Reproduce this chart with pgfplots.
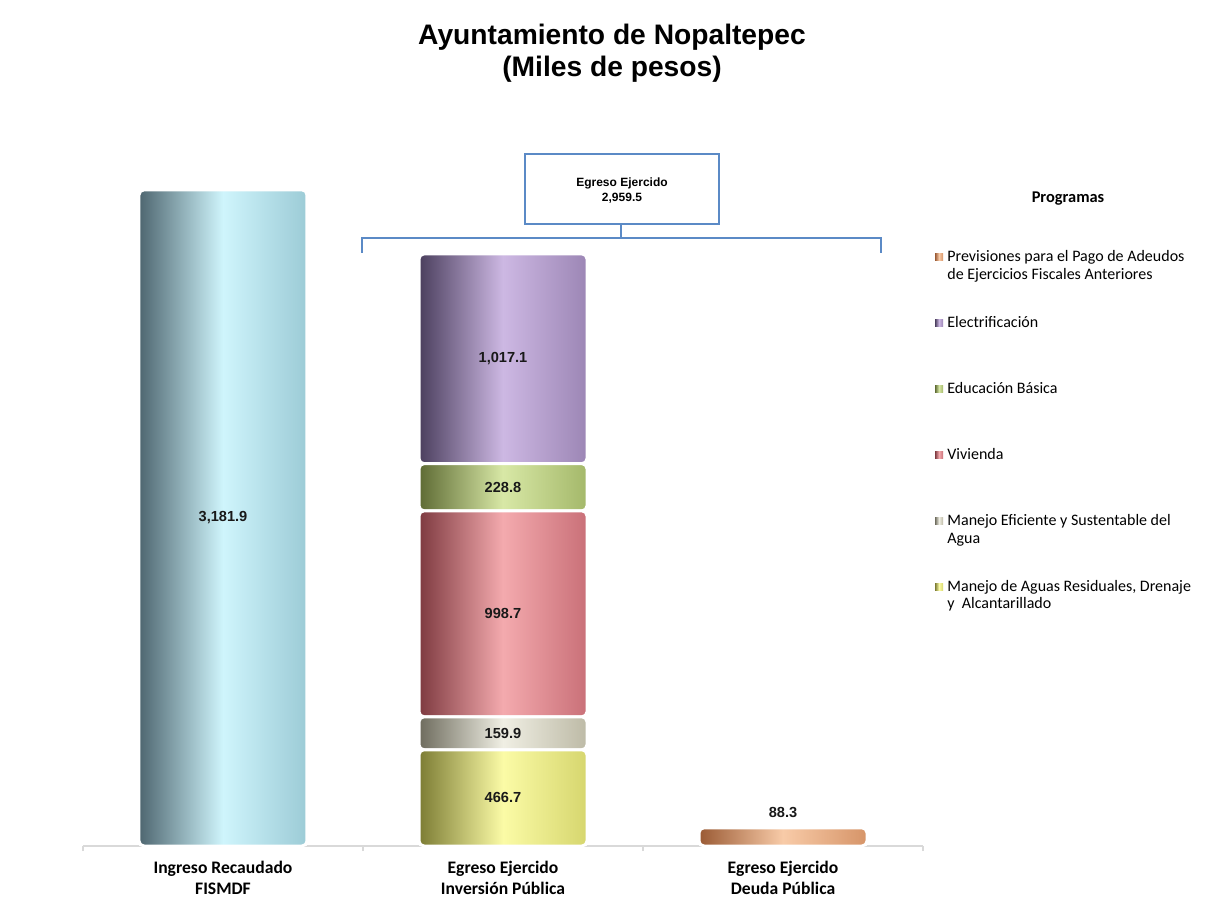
\documentclass[border=0pt]{standalone}
\usepackage{pgfplots}
\pgfplotsset{compat=1.18}
\usepackage{fontspec}
\setmainfont{Liberation Sans}
\newfontfamily\calibri{Carlito}

% cylinder colours: dark left edge, light highlight, mid right edge
\definecolor{ingL}{HTML}{4E6670}\definecolor{ingM}{HTML}{CFF5FC}\definecolor{ingR}{HTML}{9CCBD6}
\definecolor{elecL}{HTML}{4B3F5E}\definecolor{elecM}{HTML}{CDB8E3}\definecolor{elecR}{HTML}{9C86B5}
\definecolor{eduL}{HTML}{5E6B34}\definecolor{eduM}{HTML}{D8E8A6}\definecolor{eduR}{HTML}{A4B86A}
\definecolor{vivL}{HTML}{7E3A40}\definecolor{vivM}{HTML}{F4AAAE}\definecolor{vivR}{HTML}{C97078}
\definecolor{aguaL}{HTML}{6E6C5E}\definecolor{aguaM}{HTML}{F0EFE4}\definecolor{aguaR}{HTML}{BDBAA6}
\definecolor{resL}{HTML}{7C7C34}\definecolor{resM}{HTML}{FBFBA6}\definecolor{resR}{HTML}{D6D66E}
\definecolor{prevL}{HTML}{9A5A34}\definecolor{prevM}{HTML}{F8CBA8}\definecolor{prevR}{HTML}{D69468}
\definecolor{brk}{HTML}{5B8AC6}

\newcommand{\lbl}{\bfseries\fontsize{7.3}{8.6}\selectfont}
\newcommand{\legitem}[5]{%
  \shade[left color=#2, right color=#4, middle color=#3] (935,#1-8) rectangle (943,#1-1);
  \node[anchor=base west, inner sep=0, font=\calibri\fontsize{8}{9}\selectfont] at (947,#1) {#5};}

\pgfplotsset{
  cyl/.style n args={3}{draw=white, line width=1.5pt, rounded corners=2.5pt,
    left color=#1, right color=#3, middle color=#2},
  base/.style={scale only axis, width=420pt, height=371.2pt,
    xmin=-0.5, xmax=2.5, ymin=0, ymax=3600, clip=false, bar width=0.6,
    /pgf/number format/fixed, /pgf/number format/fixed zerofill,
    /pgf/number format/precision=1, /pgf/number format/1000 sep={,},
    /pgf/number format/assume math mode=true,
    nodes near coords, point meta=rawy,
    visualization depends on=rawy \as \rawy,
    every node near coord/.append style={font=\lbl, text=black!90}},
}

\begin{document}
\begin{tikzpicture}
\begin{axis}[base, ybar, bar shift=0pt,
  axis x line=bottom, axis y line=none,
  x axis line style={-, draw=black!15, line width=0.75pt},
  xtick={0,1,2},
  xticklabels={{Ingreso Recaudado\\FISMDF},{Egreso Ejercido\\Inversión Pública},{Egreso Ejercido\\Deuda Pública}},
  xticklabel style={align=center, yshift=-4pt, font=\calibri\bfseries\fontsize{8.8}{10.5}\selectfont},
  major tick length=0pt, tick align=outside,
  extra x ticks={-0.5,0.5,1.5,2.5}, extra x tick labels={},
  extra x tick style={major tick length=2.5pt, tick style={draw=black!15, line width=0.75pt}},
  ytick=\empty]
\addplot[cyl={ingL}{ingM}{ingR},
  every node near coord/.append style={anchor=center, shift={(axis direction cs:0,-\rawy/2)}}]
  coordinates {(0,3181.9)};
\addplot[cyl={prevL}{prevM}{prevR},
  every node near coord/.append style={anchor=south, yshift=1pt}]
  coordinates {(2,88.3)};
\coordinate (O) at (rel axis cs:0,0);
\end{axis}

\begin{axis}[base, ybar stacked, hide axis,
  every node near coord/.append style={anchor=center, shift={(axis direction cs:0,-\rawy/2)}}]
\addplot[cyl={resL}{resM}{resR}] coordinates {(1,466.7)};
\addplot[cyl={aguaL}{aguaM}{aguaR}] coordinates {(1,159.9)};
\addplot[cyl={vivL}{vivM}{vivR}] coordinates {(1,998.7)};
\addplot[cyl={eduL}{eduM}{eduR}] coordinates {(1,228.8)};
\addplot[cyl={elecL}{elecM}{elecR}] coordinates {(1,1017.1)};
\end{axis}

% pixel coordinates of the 1206x907 reference, origin at top left
\begin{scope}[shift={(O)}, xshift=-41.5pt, yshift=423pt, x=0.5pt, y=-0.5pt]
  \node[anchor=base, font=\bfseries\fontsize{14.1}{16}\selectfont] at (612,45) {Ayuntamiento de Nopaltepec};
  \node[anchor=base, font=\bfseries\fontsize{14.1}{16}\selectfont] at (612,77) {(Miles de pesos)};

  \draw[brk, line width=1pt] (525,154) rectangle (719,224);
  \draw[brk, line width=1pt] (621,224) -- (621,238);
  \draw[brk, line width=1pt] (362,253) -- (362,238) -- (881,238) -- (881,253);
  \node[anchor=base, font=\bfseries\fontsize{6}{7.5}\selectfont] at (622,187) {Egreso Ejercido};
  \node[anchor=base, font=\bfseries\fontsize{6}{7.5}\selectfont] at (622,202) {2,959.5};

  \node[anchor=base, font=\calibri\bfseries\fontsize{8.2}{10}\selectfont] at (1068,203) {Programas};
  \legitem{262}{prevL}{prevM}{prevR}{Previsiones para el Pago de Adeudos}
  \node[anchor=base west, inner sep=0, font=\calibri\fontsize{8}{9}\selectfont] at (947,279) {de Ejercicios Fiscales Anteriores};
  \legitem{327}{elecL}{elecM}{elecR}{Electrificación}
  \legitem{393}{eduL}{eduM}{eduR}{Educación Básica}
  \legitem{459}{vivL}{vivM}{vivR}{Vivienda}
  \legitem{525}{aguaL}{aguaM}{aguaR}{Manejo Eficiente y Sustentable del}
  \node[anchor=base west, inner sep=0, font=\calibri\fontsize{8}{9}\selectfont] at (947,543) {Agua};
  \legitem{591}{resL}{resM}{resR}{Manejo de Aguas Residuales, Drenaje}
  \node[anchor=base west, inner sep=0, font=\calibri\fontsize{8}{9}\selectfont] at (947,608) {y\ \ Alcantarillado};

  \pgfresetboundingbox
  \path[use as bounding box] (0,0) rectangle (1206,907);
\end{scope}
\end{tikzpicture}
\end{document}
